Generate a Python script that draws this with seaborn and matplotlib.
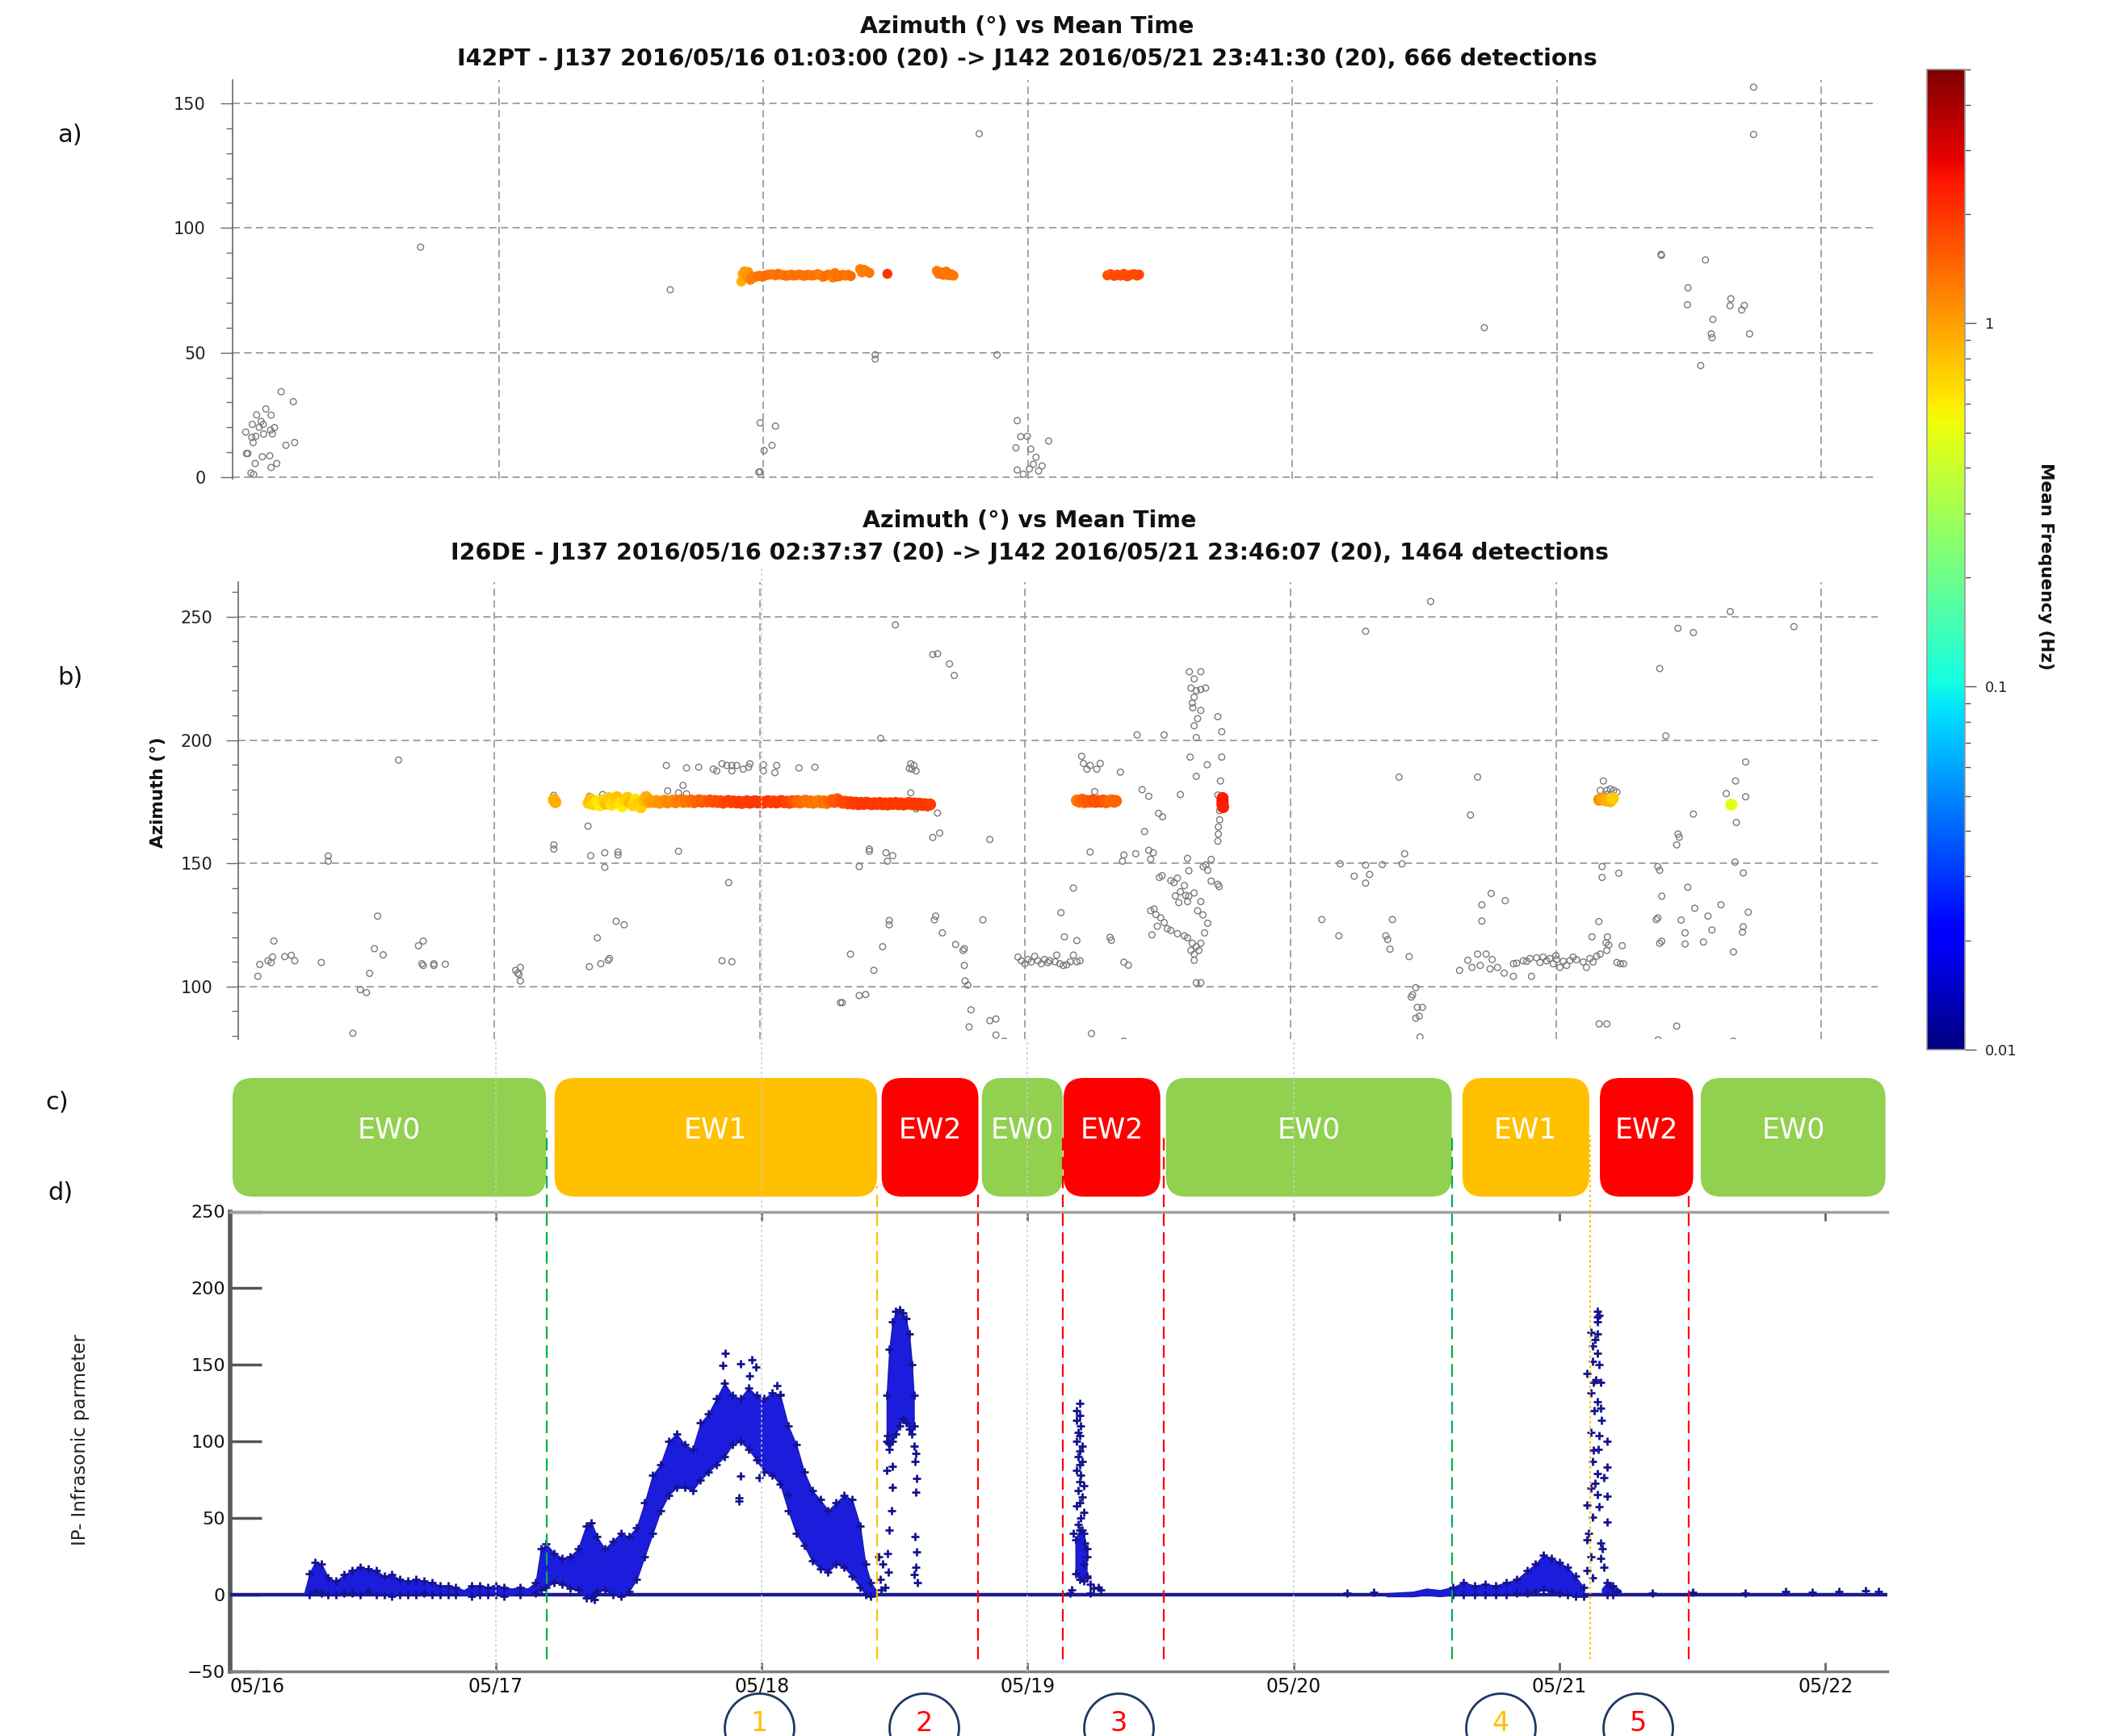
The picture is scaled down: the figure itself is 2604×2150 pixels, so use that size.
import numpy as np
import pandas as pd
import matplotlib
matplotlib.use("Agg")
import matplotlib.pyplot as plt
import matplotlib.cm as cm
from matplotlib.colors import LogNorm
from matplotlib.patches import FancyBboxPatch
from matplotlib.ticker import MultipleLocator
import seaborn as sns

# ------------------------------------------------------------------ data
days = [0, 1, 2, 3, 4, 5, 6]
day_labels = ["05/16", "05/17", "05/18", "05/19", "05/20", "05/21", "05/22"]

title_a = ["Azimuth (°) vs Mean Time",
           "I42PT - J137 2016/05/16 01:03:00 (20) -> J142 2016/05/21 23:41:30 (20), 666 detections"]
title_b = ["Azimuth (°) vs Mean Time",
           "I26DE - J137 2016/05/16 02:37:37 (20) -> J142 2016/05/21 23:46:07 (20), 1464 detections"]

# panel a : grey detections (time in days after 05/16 00:00, azimuth deg)
a_gray = [(0.176, 34.3), (0.222, 30.3), (0.118, 27.4), (0.083, 25.0), (0.138, 24.9), (0.100, 22.4),
          (0.067, 21.2), (0.108, 21.2), (0.093, 20.0), (0.151, 19.9), (0.042, 18.1), (0.136, 18.9),
          (0.065, 16.0), (0.080, 16.4), (0.110, 17.3), (0.143, 17.4), (0.070, 13.9), (0.227, 13.9),
          (0.194, 12.8), (0.050, 9.5), (0.045, 9.5), (0.105, 8.2), (0.133, 8.6), (0.078, 5.5),
          (0.159, 5.5), (0.138, 3.9), (0.062, 1.7), (0.072, 1.1),
          (0.703, 92.3), (1.647, 75.2), (1.987, 21.8), (2.045, 20.5), (2.032, 12.8), (2.002, 10.7),
          (1.987, 2.2), (1.982, 2.0), (2.422, 49.1), (2.422, 47.4), (2.815, 137.8), (2.883, 49.1),
          (2.959, 22.7), (2.972, 16.3), (2.997, 16.4), (2.954, 11.8), (3.010, 11.3), (3.030, 8.0),
          (3.020, 5.2), (3.005, 3.3), (2.959, 2.9), (2.982, 1.2), (3.040, 2.5), (3.053, 4.5),
          (3.078, 14.5),
          (4.725, 60.0), (5.393, 89.4), (5.395, 89.0), (5.561, 87.2), (5.495, 76.0), (5.493, 69.2),
          (5.657, 71.6), (5.654, 68.8), (5.708, 68.9), (5.698, 67.1), (5.589, 63.3), (5.583, 57.5),
          (5.586, 56.0), (5.728, 57.5), (5.543, 44.8), (5.743, 156.5), (5.743, 137.5)]

# panel a : coloured detections (time, azimuth, mean frequency Hz)
a_col = [(1.916, 78.5, 0.9), (1.921, 81.5, 0.95), (1.928, 82.6, 1.0), (1.935, 80.5, 1.1), (1.942, 82.3, 1.05),
         (1.950, 79.2, 1.2), (1.957, 80.5, 1.3), (1.965, 80.2, 1.25), (1.975, 80.6, 1.3), (1.985, 80.8, 1.35),
         (1.995, 80.4, 1.3), (2.005, 80.9, 1.35), (2.015, 81.2, 1.4), (2.025, 81.3, 1.35), (2.035, 81.4, 1.4),
         (2.045, 81.0, 1.3), (2.055, 81.6, 1.35), (2.065, 81.2, 1.4), (2.075, 81.1, 1.3), (2.085, 80.8, 1.35),
         (2.095, 81.0, 1.4), (2.105, 81.3, 1.3), (2.115, 80.9, 1.35), (2.125, 81.1, 1.4), (2.135, 81.3, 1.3),
         (2.145, 81.0, 1.35), (2.155, 80.8, 1.3), (2.165, 81.2, 1.35), (2.175, 81.1, 1.4), (2.185, 80.9, 1.3),
         (2.195, 81.2, 1.35), (2.205, 81.5, 1.3), (2.215, 81.0, 1.25), (2.225, 80.4, 1.3), (2.235, 80.9, 1.35),
         (2.245, 81.3, 1.4), (2.255, 81.0, 1.3), (2.262, 80.1, 1.2), (2.270, 81.9, 1.3), (2.280, 80.5, 1.35),
         (2.290, 80.8, 1.3), (2.300, 81.2, 1.4), (2.310, 80.9, 1.35), (2.320, 81.2, 1.3), (2.330, 80.7, 1.35),
         (2.365, 83.5, 1.2), (2.372, 82.2, 1.25), (2.380, 83.2, 1.3), (2.390, 82.6, 1.2), (2.400, 82.0, 1.3),
         (2.468, 81.6, 2.0),
         (2.655, 82.8, 1.25), (2.662, 81.6, 1.3), (2.670, 82.2, 1.3), (2.680, 81.2, 1.35), (2.690, 82.5, 1.3),
         (2.700, 81.0, 1.3), (2.710, 81.4, 1.35), (2.718, 80.9, 1.3),
         (3.300, 81.0, 1.7), (3.312, 81.5, 1.6), (3.325, 80.8, 1.8), (3.338, 81.3, 1.7), (3.350, 80.9, 1.75),
         (3.362, 81.6, 1.7), (3.375, 80.6, 1.8), (3.388, 81.2, 1.7), (3.400, 81.5, 1.75), (3.412, 80.9, 1.7),
         (3.420, 81.3, 1.8)]

# panel b : grey detections
b_gray = [(0.109, 104.2), (0.116, 109.0), (0.147, 110.5), (0.159, 109.8), (0.169, 118.5), (0.164, 112.0),
          (0.210, 112.2), (0.235, 112.7), (0.248, 110.5), (0.348, 109.8), (0.374, 153.0), (0.374, 150.9),
          (0.467, 81.1), (0.495, 98.8), (0.518, 97.6), (0.530, 105.4), (0.548, 115.4), (0.560, 128.6),
          (0.581, 112.9), (0.639, 191.9), (0.714, 116.6), (0.732, 118.5), (0.732, 108.6), (0.727, 109.3),
          (0.772, 109.3), (0.772, 108.6), (0.815, 109.1),
          (1.080, 106.6), (1.088, 105.5), (1.098, 107.8), (1.098, 102.3), (1.093, 105.0),
          (1.224, 177.6), (1.224, 157.5), (1.224, 155.8), (1.353, 165.1), (1.358, 177.2), (1.363, 153.1),
          (1.358, 108.1), (1.388, 119.8), (1.401, 109.3), (1.408, 177.9), (1.416, 148.4), (1.416, 154.3),
          (1.429, 110.7), (1.434, 111.4), (1.459, 126.5), (1.466, 154.6), (1.466, 153.4), (1.489, 125.1),
          (1.648, 189.7), (1.653, 179.4), (1.694, 178.6), (1.711, 181.6), (1.724, 178.2), (1.694, 154.9),
          (1.724, 188.7), (1.770, 189.0), (1.825, 188.2), (1.838, 187.5), (1.858, 190.4), (1.876, 189.7),
          (1.895, 189.7), (1.913, 189.7), (1.895, 187.5), (1.938, 188.2), (1.963, 190.4), (1.958, 189.0),
          (2.014, 190.0), (2.014, 187.5), (2.064, 189.7), (2.057, 186.8), (2.148, 188.7), (2.208, 189.0),
          (1.858, 110.5), (1.895, 110.1), (1.883, 142.2),
          (2.304, 93.5), (2.311, 93.5), (2.342, 113.2), (2.375, 96.4), (2.399, 96.8), (2.375, 148.7),
          (2.413, 155.8), (2.413, 154.9), (2.430, 106.6), (2.511, 246.7), (2.456, 200.7), (2.463, 116.2),
          (2.476, 154.3), (2.481, 150.9), (2.488, 126.8), (2.488, 125.1), (2.501, 153.1),
          (2.569, 190.4), (2.574, 188.2), (2.581, 189.7), (2.589, 187.5), (2.564, 188.5), (2.569, 178.6),
          (2.589, 172.1), (2.632, 172.6), (2.670, 170.4), (2.652, 160.5), (2.678, 162.3), (2.652, 234.7),
          (2.670, 235.0), (2.715, 230.9), (2.733, 226.2),
          (2.658, 127.1), (2.663, 128.6), (2.688, 121.8), (2.738, 117.1), (2.766, 114.7), (2.771, 115.4),
          (2.771, 108.6), (2.774, 102.3), (2.784, 100.6), (2.796, 90.6), (2.789, 83.7), (2.841, 127.1),
          (2.867, 159.7), (2.867, 86.2), (2.890, 86.9), (2.890, 80.4), (2.922, 77.9),
          (2.973, 112.0), (2.986, 110.5), (2.999, 109.3), (3.011, 111.0), (3.023, 110.0), (3.036, 112.3),
          (3.048, 110.5), (3.061, 109.3), (3.073, 111.0), (3.086, 109.8),
          (3.093, 110.5), (3.113, 110.1), (3.131, 109.3), (3.157, 108.9), (3.170, 110.1), (3.195, 110.1),
          (3.207, 110.5), (3.144, 108.6), (3.119, 112.8), (3.182, 112.8),
          (3.135, 130.0), (3.182, 140.0), (3.148, 120.2), (3.195, 118.7), (3.245, 154.6), (3.213, 193.4),
          (3.220, 190.5), (3.245, 189.7), (3.283, 190.5), (3.270, 188.2), (3.233, 188.2), (3.262, 179.1),
          (3.359, 187.0),
          (3.441, 179.9), (3.466, 177.2), (3.372, 153.4), (3.367, 150.9), (3.417, 153.9), (3.466, 155.3),
          (3.483, 154.3), (3.473, 151.7), (3.503, 170.3), (3.518, 168.9), (3.450, 162.9), (3.422, 202.1),
          (3.524, 202.1), (3.585, 177.9),
          (3.506, 144.3), (3.516, 145.0), (3.549, 143.0), (3.574, 144.0), (3.561, 142.2), (3.600, 141.0),
          (3.617, 147.0), (3.585, 138.5), (3.566, 136.8), (3.579, 134.1), (3.605, 137.0),
          (3.473, 130.8), (3.493, 129.2), (3.511, 127.9), (3.524, 126.0), (3.536, 123.5), (3.549, 122.8),
          (3.574, 121.5), (3.600, 120.6), (3.612, 119.8), (3.630, 117.6), (3.645, 116.2), (3.655, 114.7),
          (3.637, 113.2), (3.625, 114.7), (3.662, 117.6), (3.676, 121.8), (3.688, 125.7), (3.670, 129.1),
          (3.650, 130.8), (3.662, 134.5), (3.612, 134.5), (3.617, 136.7), (3.637, 138.0), (3.478, 121.0),
          (3.498, 124.5), (3.486, 131.5),
          (3.637, 110.7), (3.645, 101.6), (3.662, 101.6),
          (3.619, 227.7), (3.662, 227.7), (3.637, 224.8), (3.645, 220.0), (3.625, 221.1), (3.662, 220.5),
          (3.680, 221.1), (3.637, 217.4), (3.630, 215.0), (3.632, 213.1), (3.662, 212.0), (3.650, 208.7),
          (3.637, 205.8), (3.726, 209.5), (3.741, 203.4), (3.645, 201.0),
          (3.622, 193.1), (3.686, 190.0), (3.741, 193.1), (3.645, 185.3), (3.736, 183.4), (3.726, 177.7),
          (3.733, 171.4), (3.733, 167.7), (3.728, 164.8), (3.728, 161.9), (3.726, 159.0),
          (3.701, 151.6), (3.681, 149.4), (3.671, 148.7), (3.688, 147.2), (3.701, 142.8), (3.726, 141.5),
          (3.731, 140.6), (3.612, 152.0),
          (3.250, 81.0), (3.372, 77.9), (3.320, 120.0), (3.325, 118.8), (3.372, 109.9), (3.389, 108.7),
          (4.409, 185.0), (4.705, 185.0), (4.283, 244.1), (4.528, 256.2), (4.678, 169.6),
          (4.187, 149.8), (4.283, 149.3), (4.346, 149.5), (4.420, 149.8), (4.430, 153.9), (4.240, 144.8),
          (4.298, 145.5), (4.283, 142.0),
          (4.118, 127.2), (4.182, 120.6), (4.359, 120.6), (4.384, 127.2), (4.366, 119.1), (4.375, 115.2),
          (4.447, 112.2),
          (4.472, 99.6), (4.460, 96.7), (4.455, 95.8), (4.478, 91.6), (4.497, 91.6), (4.472, 87.2),
          (4.485, 88.0), (4.488, 79.6),
          (4.756, 137.8), (4.809, 134.9), (4.721, 133.2), (4.721, 126.6), (4.668, 110.7), (4.737, 113.2),
          (4.705, 113.2), (4.760, 111.0), (4.637, 106.6), (4.684, 107.8), (4.715, 108.6), (4.752, 107.2),
          (4.780, 107.8), (4.805, 105.5), (4.840, 104.2), (4.908, 104.2), (4.840, 109.3),
          (4.852, 109.5), (4.877, 110.5), (4.902, 111.4), (4.927, 111.7), (4.952, 112.0), (4.977, 111.4),
          (5.003, 111.0), (5.028, 110.3), (5.053, 110.6), (5.078, 110.9), (5.103, 110.0), (5.128, 111.4),
          (5.154, 112.4), (5.167, 113.2), (5.192, 114.7), (5.230, 109.8), (5.243, 109.3), (5.255, 109.3),
          (4.990, 109.3), (5.015, 107.8), (5.040, 108.6), (4.890, 110.3), (4.940, 109.8), (5.115, 107.8),
          (5.000, 112.6), (4.965, 110.5), (5.065, 112.0), (5.140, 110.0),
          (5.136, 120.2), (5.194, 120.2), (5.189, 117.8), (5.199, 116.9), (5.250, 116.6), (5.162, 126.4),
          (5.174, 148.7), (5.174, 144.3), (5.237, 146.0), (5.163, 84.9), (5.192, 84.9),
          (5.179, 183.4), (5.167, 179.6), (5.192, 179.6), (5.205, 180.2), (5.218, 179.6), (5.230, 178.9),
          (5.192, 178.0),
          (5.384, 127.9), (5.391, 117.6), (5.399, 118.4), (5.378, 127.2), (5.399, 136.7), (5.391, 147.2),
          (5.384, 148.7), (5.391, 229.0), (5.460, 245.3), (5.518, 243.6), (5.414, 201.7), (5.518, 170.0),
          (5.460, 161.9), (5.465, 160.6), (5.455, 157.5),
          (5.497, 140.3), (5.523, 131.8), (5.573, 128.6), (5.622, 133.2), (5.556, 118.1), (5.588, 123.0),
          (5.472, 127.0), (5.487, 121.8), (5.487, 117.3),
          (5.642, 178.3), (5.677, 183.4), (5.715, 191.1), (5.715, 177.0), (5.680, 166.6), (5.675, 150.5),
          (5.706, 146.1), (5.669, 114.1), (5.725, 130.2), (5.706, 124.3), (5.703, 122.1),
          (5.657, 252.1), (5.897, 246.0), (5.455, 84.0), (5.385, 78.4), (5.669, 77.9)]

# panel b : coloured detections (time, azimuth, mean frequency Hz)
b_col = [(1.224, 175.8, 0.85), (1.230, 174.8, 0.9),
         (1.355, 174.5, 0.75), (1.362, 176.0, 0.8), (1.372, 174.0, 0.7), (1.385, 175.2, 0.65),
         (1.398, 173.5, 0.6), (1.410, 175.6, 0.7), (1.420, 174.2, 0.8), (1.432, 176.5, 0.75),
         (1.442, 173.8, 0.65), (1.452, 175.0, 0.7), (1.462, 176.8, 0.8), (1.472, 174.3, 0.65),
         (1.482, 173.2, 0.6), (1.492, 175.5, 0.7), (1.502, 176.6, 0.75), (1.512, 174.6, 0.85),
         (1.522, 173.6, 0.7), (1.532, 175.8, 0.65), (1.542, 174.2, 0.75), (1.552, 172.8, 0.7),
         (1.562, 175.4, 0.8), (1.572, 176.9, 0.9), (1.582, 174.8, 0.95), (1.592, 175.2, 1.0),
         (1.602, 174.9, 1.05), (1.612, 175.3, 1.0), (1.622, 174.6, 1.1), (1.632, 175.0, 1.05),
         (1.642, 175.4, 1.1), (1.652, 174.7, 1.15), (1.662, 175.1, 1.2), (1.672, 175.5, 1.1),
         (1.682, 174.8, 1.2), (1.692, 175.2, 1.25), (1.702, 175.6, 1.3), (1.712, 174.9, 1.2),
         (1.722, 175.3, 1.35), (1.732, 175.0, 1.3), (1.742, 175.5, 1.4), (1.752, 174.8, 1.35),
         (1.762, 175.2, 1.5), (1.772, 175.6, 1.45), (1.782, 175.0, 1.6), (1.792, 175.3, 1.5),
         (1.802, 175.1, 1.55), (1.812, 175.5, 1.6), (1.822, 175.0, 1.7), (1.832, 175.3, 1.65),
         (1.842, 174.9, 1.75), (1.852, 175.2, 1.7), (1.862, 174.6, 1.8), (1.872, 175.0, 1.75),
         (1.882, 175.3, 1.85), (1.892, 174.8, 1.8), (1.902, 175.1, 1.9), (1.912, 174.7, 1.85),
         (1.922, 175.0, 1.9), (1.932, 174.5, 1.95), (1.942, 174.9, 1.9), (1.952, 175.2, 1.85),
         (1.962, 174.6, 1.95), (1.972, 174.9, 2.0), (1.982, 175.2, 1.9), (1.992, 174.7, 1.95),
         (2.002, 175.0, 2.0), (2.012, 174.6, 1.9), (2.022, 174.9, 1.95), (2.032, 175.2, 2.0),
         (2.042, 174.8, 1.9), (2.052, 175.1, 1.85), (2.062, 174.7, 1.9), (2.072, 175.0, 1.95),
         (2.082, 175.3, 1.85), (2.092, 174.8, 1.9), (2.102, 175.0, 1.8), (2.112, 174.6, 1.85),
         (2.122, 175.2, 1.7), (2.132, 174.9, 1.6), (2.142, 175.3, 1.5), (2.152, 174.7, 1.45),
         (2.162, 175.0, 1.4), (2.172, 175.4, 1.35), (2.182, 174.8, 1.3), (2.192, 175.1, 1.4),
         (2.202, 174.6, 1.3), (2.212, 175.0, 1.35), (2.222, 175.3, 1.25), (2.232, 174.7, 1.3),
         (2.242, 175.1, 1.4), (2.252, 174.5, 1.3), (2.262, 175.0, 1.45), (2.272, 175.6, 1.5),
         (2.282, 174.9, 1.6), (2.292, 176.0, 1.55), (2.302, 175.2, 1.7), (2.312, 174.6, 1.75),
         (2.322, 175.0, 1.8), (2.332, 174.3, 1.7), (2.342, 174.8, 1.85), (2.352, 174.2, 1.9),
         (2.362, 174.6, 1.95), (2.372, 174.0, 1.9), (2.382, 174.5, 2.0), (2.392, 174.1, 1.95),
         (2.402, 174.6, 1.9), (2.412, 174.3, 2.0), (2.422, 174.0, 1.95), (2.432, 174.4, 1.9),
         (2.442, 174.1, 2.0), (2.452, 174.5, 1.95), (2.462, 174.0, 1.9), (2.472, 174.3, 2.0),
         (2.482, 173.9, 1.95), (2.492, 174.4, 1.9), (2.502, 174.1, 2.0), (2.512, 174.5, 1.95),
         (2.522, 174.0, 1.9), (2.532, 174.3, 2.0), (2.542, 173.9, 1.95), (2.552, 174.2, 2.0),
         (2.562, 174.5, 1.95), (2.572, 174.0, 1.9), (2.582, 174.3, 2.0), (2.592, 173.8, 1.95),
         (2.602, 174.2, 2.0), (2.612, 173.7, 1.9), (2.622, 174.0, 2.0), (2.632, 173.6, 1.95),
         (2.642, 173.9, 1.9),
         (3.195, 175.5, 1.3), (3.205, 175.0, 1.4), (3.215, 175.8, 1.5), (3.225, 174.8, 1.45),
         (3.235, 175.3, 1.6), (3.245, 175.0, 1.55), (3.255, 175.6, 1.7), (3.265, 174.9, 1.65),
         (3.275, 175.3, 1.6), (3.285, 175.0, 1.7), (3.295, 175.5, 1.6), (3.305, 174.8, 1.5),
         (3.315, 175.2, 1.45), (3.325, 175.6, 1.4), (3.335, 175.0, 1.5), (3.342, 175.3, 1.45),
         (3.744, 176.5, 2.3), (3.744, 175.5, 2.4), (3.744, 174.5, 2.5), (3.744, 173.5, 2.4),
         (3.746, 172.8, 2.3),
         (5.163, 175.8, 1.1), (5.175, 176.2, 1.0), (5.190, 175.5, 0.9), (5.205, 175.2, 0.85),
         (5.215, 176.3, 0.75),
         (5.661, 173.8, 0.48)]

# panel c : warning levels
ew_labels = ["EW0", "EW1", "EW2", "EW0", "EW2", "EW0", "EW1", "EW2", "EW0"]
ew_start = [0.010, 1.221, 2.451, 2.828, 3.135, 3.520, 4.635, 5.152, 5.531]
ew_end = [1.189, 2.434, 2.815, 3.132, 3.499, 4.595, 5.112, 5.503, 6.226]

# panel d : infrasonic parameter, dense clouds as (time, low, high, segment)
env_t = [0.280, 0.300, 0.320, 0.345, 0.370, 0.400, 0.430, 0.460, 0.490, 0.520, 0.550, 0.580, 0.610,
         0.640, 0.670, 0.700, 0.730, 0.760, 0.790, 0.820, 0.850, 0.880, 0.910, 0.940, 0.970, 1.000,
         1.030, 1.060, 1.090, 1.120, 1.150, 1.170, 1.190, 1.220, 1.250, 1.280, 1.310, 1.340, 1.360,
         1.380, 1.410, 1.440, 1.470, 1.500, 1.530, 1.560, 1.590, 1.620, 1.650, 1.680, 1.710, 1.740,
         1.770, 1.800, 1.830, 1.860, 1.890, 1.920, 1.950, 1.980, 2.010, 2.040, 2.070, 2.100, 2.130,
         2.160, 2.190, 2.220, 2.250, 2.280, 2.310, 2.340, 2.370, 2.390, 2.410, 2.430,
         2.470, 2.480, 2.492, 2.505, 2.518, 2.530, 2.542, 2.555, 2.565, 2.572,
         3.180, 3.195, 3.210, 3.222,
         4.350, 4.450, 4.500, 4.550, 4.600, 4.640, 4.680, 4.720, 4.760, 4.800, 4.840, 4.880, 4.910,
         4.940, 4.970, 5.000, 5.030, 5.060, 5.090,
         5.160, 5.180, 5.200, 5.230]
env_lo = [0, 0, 2, 1, 0, 0, 1, 1, 0, 2, 0, 0, -1, 0, 0, 0, 1, 0, 0, 0, 0, 0, -1, 0, 0, 0, -1, 0, 0, 0,
          1, 3, 5, 8, 7, 4, 3, -2, -2, 2, 3, 0, -1, 2, 10, 25, 40, 55, 65, 70, 70, 68, 75, 80, 85, 90,
          98, 100, 95, 88, 80, 78, 72, 55, 40, 32, 22, 17, 15, 20, 18, 12, 5, 0, -1, -1,
          100, 95, 100, 105, 110, 115, 112, 108, 105, 110,
          14, 10, 9, 12,
          -1, -1, 0, -1, 0, 0, 0, 0, 0, 0, 1, 1, 2, 3, 2, 1, 0, -1, -1,
          0, 0, 0, 0]
env_hi = [1, 14, 21, 20, 11, 9, 13, 16, 18, 17, 16, 12, 13, 10, 9, 10, 9, 8, 6, 6, 5, 3, 6, 6, 5, 6, 5,
          4, 5, 4, 8, 30, 33, 27, 24, 25, 30, 45, 47, 38, 30, 35, 40, 38, 44, 60, 78, 85, 100, 105, 98,
          95, 112, 118, 128, 138, 130, 128, 135, 130, 128, 132, 130, 110, 98, 80, 68, 62, 55, 60, 65,
          62, 45, 20, 8, 3,
          130, 160, 178, 185, 186, 184, 180, 170, 150, 130,
          36, 42, 40, 30,
          1, 2, 4, 3, 5, 8, 6, 7, 6, 8, 10, 16, 20, 26, 24, 21, 18, 12, 5,
          4, 8, 6, 3]
env_seg = [1] * 76 + [2] * 10 + [3] * 4 + [4] * 19 + [5] * 4

# panel d : isolated detections (time, value)
d_pts = [(1.863, 157.7), (1.855, 149.8), (1.920, 150.5), (1.964, 153.2), (1.977, 148.7), (1.953, 143.0),
         (2.057, 136.3), (2.070, 130.6), (1.913, 63.0), (1.913, 61.0), (1.920, 77.7), (1.990, 76.6),
         (2.100, 65.3), (1.364, -1.0), (1.370, -3.0),
         (2.472, 104), (2.475, 99), (2.470, 81), (2.478, 42), (2.472, 27), (2.475, 15), (2.575, 97),
         (2.580, 92), (2.578, 87), (2.582, 76), (2.580, 67), (2.578, 38), (2.582, 28), (2.580, 18),
         (2.575, 13), (2.585, 8), (2.455, 20), (2.445, 10), (2.465, 5), (2.490, 84), (2.490, 70),
         (2.488, 55), (2.440, 25), (2.450, 3),
         (3.197, 125), (3.185, 120), (3.197, 117), (3.185, 114), (3.200, 110), (3.190, 106), (3.197, 104),
         (3.185, 100), (3.205, 97), (3.197, 94), (3.190, 90), (3.205, 87), (3.197, 85), (3.185, 81),
         (3.200, 78), (3.197, 74), (3.210, 71), (3.190, 68), (3.205, 64), (3.197, 60), (3.185, 58),
         (3.210, 54), (3.200, 50), (3.190, 46), (3.205, 42), (3.172, 40), (3.215, 34), (3.222, 25),
         (3.210, 20), (3.222, 11), (3.235, 7), (3.248, 4), (3.235, 1), (3.165, 3), (3.160, 1),
         (5.142, 184.7), (5.142, 181.3), (5.142, 177.9), (5.149, 182.5), (5.117, 171.2), (5.134, 166.7),
         (5.124, 162.2), (5.142, 157.7), (5.124, 152.1), (5.104, 144.2), (5.129, 138.6), (5.154, 138.6),
         (5.117, 131.8), (5.142, 126.1), (5.154, 121.6), (5.159, 113.8), (5.117, 105.9), (5.149, 103.6),
         (5.179, 100.2), (5.129, 94.5), (5.124, 86.8), (5.179, 83.4), (5.142, 78.9), (5.167, 76.6),
         (5.117, 69.8), (5.142, 65.3), (5.179, 64.2), (5.104, 58.6), (5.149, 57.5), (5.124, 50.7),
         (5.179, 47.3), (5.104, 36.0), (5.154, 33.8), (5.117, 24.8), (5.154, 23.6), (5.167, 18.0),
         (5.104, 15.8), (5.124, 11.3), (5.192, 5.6), (5.217, 2.3), (5.142, 170.0), (5.149, 150.0),
         (5.137, 140.0), (5.130, 120.0), (5.145, 95.0), (5.135, 73.0), (5.110, 40.0), (5.162, 30.0),
         (3.265, 5), (3.275, 3), (4.20, 1), (4.30, 1.5), (5.35, 1), (5.50, 1.5), (5.70, 1), (5.85, 2),
         (5.95, 1.5), (6.05, 2), (6.15, 2.5), (6.20, 2)]
base_t = [0.0, 6.233]
base_v = [0.0, 0.0]

# event lines and numbered events
ev_t = [1.192, 2.434, 2.812, 3.131, 3.512, 4.596, 5.115, 5.486]
ev_kind = ["green", "orange", "red", "red", "red", "green", "orange_dot", "red"]
circ_t = [1.989, 2.611, 3.341, 4.778, 5.294]
circ_lbl = ["1", "2", "3", "4", "5"]
circ_kind = ["orange", "red", "red", "orange", "red"]

# ------------------------------------------------------------------ layout / style
W, H = 2604, 2150


def rect(l, t, r, b):
    return [l / W, 1 - b / H, (r - l) / W, (b - t) / H]


sns.set_style("white")
plt.rcParams["font.family"] = ["DejaVu Sans"]
fig = plt.figure(figsize=(W / 100, H / 100), dpi=100)
fig.patch.set_facecolor("white")

JET = matplotlib.colormaps["jet"]
norm = LogNorm(vmin=0.01, vmax=5)
GRID = dict(color="#9c9c9c", linestyle=(0, (5, 3)), linewidth=1.3)
ORANGE, RED, GREEN = "#FFC000", "#FF0000", "#92D050"
LINE_COL = {"green": "#00B050", "orange": "#FFC000", "red": "#FF0000", "orange_dot": "#FFC000"}


def style_az(ax, yticks, pad):
    ax.set_xticks(days[1:])
    ax.set_xticklabels([])
    ax.set_yticks(yticks)
    ax.yaxis.set_minor_locator(MultipleLocator(10))
    ax.grid(True, which="major", **GRID)
    ax.set_axisbelow(True)
    for s in ["top", "right", "bottom"]:
        ax.spines[s].set_visible(False)
    ax.spines["left"].set_color("#6a6a6a")
    ax.spines["left"].set_linewidth(1.2)
    ax.tick_params(axis="x", length=0, bottom=False)
    ax.tick_params(axis="y", which="major", direction="out", length=11, width=1, color="#6a6a6a",
                   labelsize=15, labelcolor="#222222", pad=pad, left=True)
    ax.tick_params(axis="y", which="minor", direction="out", length=6, width=1, color="#6a6a6a", left=True)
    ax.set_xlabel("")
    ax.set_ylabel("")


def az_panel(rect_px, xlim, ylim, gray, col, yticks, pad, s_col):
    ax = fig.add_axes(rect(*rect_px))
    gt, ga = zip(*gray)
    sns.scatterplot(x=list(gt), y=list(ga), ax=ax, marker="o", s=30, facecolor="none",
                    edgecolor="#7a7a7a", linewidth=1.0, zorder=3)
    ct, ca, cf = zip(*col)
    sns.scatterplot(x=list(ct), y=list(ca), hue=list(cf), hue_norm=norm, palette=JET, ax=ax,
                    s=s_col, linewidth=0, legend=False, zorder=4)
    ax.set_xlim(*xlim)
    ax.set_ylim(*ylim)
    style_az(ax, yticks, pad)
    return ax


ax_a = az_panel((288, 99, 2324.5, 593), (-0.0076, 6.2107), (-0.65, 159.4), a_gray, a_col,
                [0, 50, 100, 150], 13, 80)
ax_b = az_panel((295, 720.5, 2324.5, 1287), (0.035, 6.211), (78.7, 264.2), b_gray, b_col,
                [100, 150, 200, 250], 12, 115)

TITLE = dict(ha="center", va="center", fontsize=20.5, fontweight="bold", color="#111111")
for y, txt in zip([33, 73], title_a):
    fig.text(1272 / W, 1 - y / H, txt, **TITLE)
for y, txt in zip([645, 685], title_b):
    fig.text(1275 / W, 1 - y / H, txt, **TITLE)

fig.text(196 / W, 1 - 981 / H, "Azimuth (°)", rotation=90, ha="center", va="center",
         fontsize=15.5, fontweight="bold", color="#111111")

for lbl, (x, y) in zip(["a)", "b)", "c)", "d)"], [(86, 168), (87, 839), (71, 1365), (75, 1478)]):
    fig.text(x / W, 1 - y / H, lbl, ha="center", va="center", fontsize=22, color="#111111")

# colorbar
cax = fig.add_axes(rect(2386, 86, 2433, 1300))
sm = cm.ScalarMappable(norm=norm, cmap=JET)
cb = fig.colorbar(sm, cax=cax)
cb.set_ticks([0.01, 0.1, 1])
cb.set_ticklabels(["0.01", "0.1", "1"])
cb.outline.set_edgecolor("#9a9a9a")
cb.outline.set_linewidth(1.2)
cax.tick_params(which="major", right=True, length=10, width=1, color="#555555", labelsize=13, pad=8,
                labelcolor="#222222")
cax.tick_params(which="minor", right=True, length=5, width=1, color="#555555")
fig.text(2533 / W, 1 - 701 / H, "Mean Frequency (Hz)", rotation=270, ha="center", va="center",
         fontsize=15.5, fontweight="bold", color="#111111")

# panel c
PX_PER_DAY = 329.3
ax_c = fig.add_axes(rect(284.6, 1330, 2337, 1490))
ax_c.set_xlim(0, 6.233)
ax_c.set_ylim(0, 160)
ax_c.axis("off")
EW_COL = {"EW0": GREEN, "EW1": ORANGE, "EW2": RED}
for lbl, t0, t1 in zip(ew_labels, ew_start, ew_end):
    ax_c.add_patch(FancyBboxPatch((t0, 8), t1 - t0, 147,
                                  boxstyle="round,pad=0,rounding_size=0.076",
                                  mutation_aspect=PX_PER_DAY, fc=EW_COL[lbl], ec="none"))
    ax_c.text((t0 + t1) / 2, 90, lbl, ha="center", va="center", fontsize=25, color="white")

# panel d
ax_d = fig.add_axes(rect(284.6, 1500.5, 2337, 2070))
sns.lineplot(x=base_t, y=base_v, ax=ax_d, color="#1b1b8f", linewidth=3.2, estimator=None,
             sort=False, zorder=3)
env = pd.DataFrame({"t": env_t, "lo": env_lo, "hi": env_hi, "seg": env_seg})
for _, g in env.groupby("seg"):
    ax_d.fill_between(g["t"], g["lo"], g["hi"], facecolor="#1c1cdc", edgecolor="#1a1ab0",
                      linewidth=1.0, zorder=4)
# rough edges of the clouds: the envelope samples themselves as '+' detections
edge = env[env["hi"] - env["lo"] > 4]
sns.scatterplot(x=edge["t"], y=edge["hi"], ax=ax_d, marker="+", s=45, color="#14148f", linewidth=2,
                zorder=5)
sns.scatterplot(x=edge["t"], y=edge["lo"], ax=ax_d, marker="+", s=45, color="#14148f", linewidth=2,
                zorder=5)
pt, pv = zip(*d_pts)
sns.scatterplot(x=list(pt), y=list(pv), ax=ax_d, marker="+", s=45, color="#14148f", linewidth=2,
                zorder=5)
ax_d.set_xlim(0, 6.233)
ax_d.set_ylim(-50, 250)

D_BOTTOM, D_H = 2070, 569.5
ev_top_px = [1400, 1469, 1476, 1408, 1406, 1406, 1406, 1481]
for t, kind, top in zip(ev_t, ev_kind, ev_top_px):
    ls = (0, (1.2, 1.6)) if kind == "orange_dot" else (0, (7, 3.5))
    ax_d.axvline(t, ymin=(D_BOTTOM - 2055) / D_H, ymax=(D_BOTTOM - top) / D_H, color=LINE_COL[kind],
                 linestyle=ls, linewidth=1.6, clip_on=False, zorder=6)

grid_top_px = {1: 1287, 2: 703, 3: 1287, 4: 1287}
for t, top in grid_top_px.items():
    ax_d.axvline(t, ymin=0, ymax=(D_BOTTOM - top) / D_H, color="#cdcdcd", linestyle=(0, (2, 2)),
                 linewidth=1.1, clip_on=False, zorder=6)

ax_d.set_xticks(days)
ax_d.set_xticklabels(day_labels)
ax_d.set_yticks([-50, 0, 50, 100, 150, 200, 250])
ax_d.tick_params(axis="x", direction="in", length=8, width=2, color="#666666", bottom=True, top=True,
                 labelsize=17, pad=5, labelcolor="#111111")
ax_d.tick_params(axis="y", direction="in", length=28, width=2.5, color="#555555", left=True,
                 labelsize=16, pad=4, labelcolor="#111111")
ax_d.get_xticklabels()[0].set_horizontalalignment("left")
ax_d.grid(False)
for s, c, lw in [("left", "#5a5a5a", 4), ("bottom", "#7d7d7d", 2.5), ("top", "#a0a0a0", 2.5)]:
    ax_d.spines[s].set_color(c)
    ax_d.spines[s].set_linewidth(lw)
ax_d.spines["right"].set_visible(False)
ax_d.set_xlabel("")
ax_d.set_ylabel("")
fig.text(100 / W, 1 - 1783 / H, "IP- Infrasonic parmeter", rotation=90, ha="center", va="center",
         fontsize=16.5, color="#222222")

CIRC_Y = -86.9
sns.scatterplot(x=circ_t, y=[CIRC_Y] * len(circ_t), ax=ax_d, s=3830, marker="o", facecolor="white",
                edgecolor="#1f3864", linewidth=2, clip_on=False, zorder=7)
for t, lbl, kind in zip(circ_t, circ_lbl, circ_kind):
    ax_d.text(t, CIRC_Y + 3, lbl, ha="center", va="center", fontsize=24,
              color=ORANGE if kind == "orange" else RED, clip_on=False, zorder=8)

fig.savefig("out.png", dpi=100, facecolor="white")
